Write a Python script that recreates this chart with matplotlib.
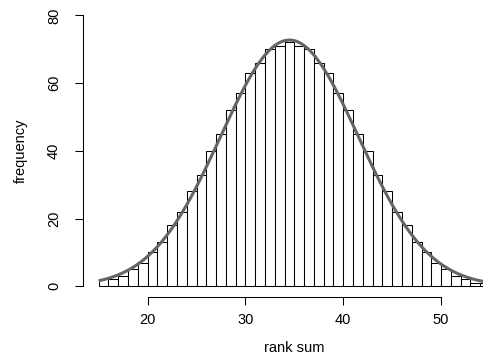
import numpy as np
import matplotlib
matplotlib.use("Agg")
import matplotlib.pyplot as plt

# histogram of rank sums (bins of width 1, left edges)
bin_left = list(range(15, 55))
freq = [2, 2, 3, 5, 7, 10, 13, 18, 22, 28,
        33, 40, 45, 52, 57, 63, 66, 70, 71, 72,
        71, 70, 66, 63, 57, 52, 45, 40, 33, 28,
        22, 18, 13, 10, 7, 5, 3, 2, 1, 1]

# normal approximation overlaid on the histogram
curve_mean = 34.5
curve_sd = 7.06
curve_peak = 72.7

x_ticks = [20, 30, 40, 50]
y_ticks = [0, 20, 40, 60, 80]

plt.rcParams['font.family'] = ['Liberation Sans', 'DejaVu Sans']

fig = plt.figure(figsize=(4.83, 3.57), dpi=100)
W, H = 483, 357
# plot region in pixels: left 83, right 483 (cropped), top 4.5, bottom 297
ax = fig.add_axes([83 / W, (H - 297.1) / H, 400 / W, (297.1 - 4.5) / H])

ax.bar(bin_left, freq, width=1.0, align='edge', color='white',
       edgecolor='black', linewidth=0.75)

xs = np.linspace(15, 55, 400)
ys = curve_peak * np.exp(-0.5 * ((xs - curve_mean) / curve_sd) ** 2)
ax.plot(xs, ys, color='#656565', linewidth=2.2, solid_capstyle='butt')

ax.set_xlim(13.4, 54.28)
ax.set_ylim(-3.2, 83.2)

for s in ['top', 'right']:
    ax.spines[s].set_visible(False)
ax.spines['left'].set_bounds(0, 80)
ax.spines['bottom'].set_bounds(20, 50)
for s in ['left', 'bottom']:
    ax.spines[s].set_linewidth(0.75)

ax.set_xticks(x_ticks)
ax.set_yticks(y_ticks)
ax.set_yticklabels([str(v) for v in y_ticks], rotation=90, va='center')
ax.tick_params(axis='both', direction='out', length=5.5, width=0.75,
               labelsize=10.5, colors='black')
ax.tick_params(axis='x', pad=6.3)
ax.tick_params(axis='y', pad=10.3)

ax.set_xlabel('rank sum', fontsize=10.5, labelpad=10)
ax.set_ylabel('frequency', fontsize=10.5, labelpad=13.5)
# the full plot region runs past the cropped right edge; centre label on it
ax.xaxis.label.set_x((294.4 - 83) / 400)

fig.savefig('out.png', dpi=100)
